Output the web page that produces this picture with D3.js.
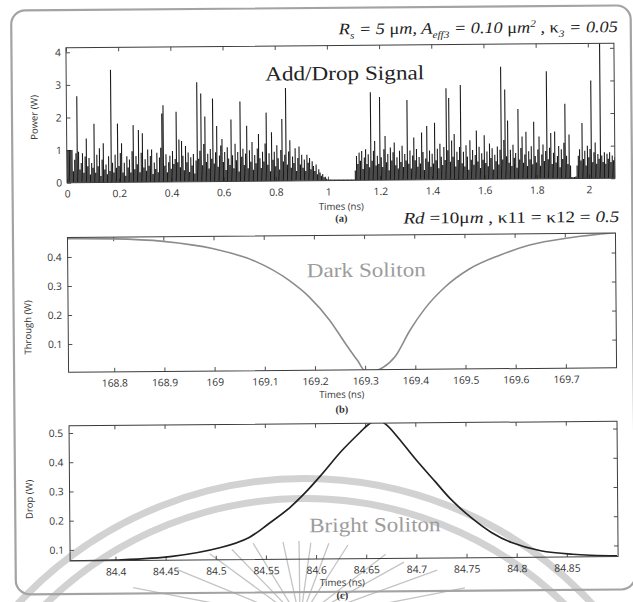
<!DOCTYPE html>
<html>
<head>
<meta charset="utf-8">
<script src="https://cdn.jsdelivr.net/npm/d3@7"></script>
<style>
  body { margin: 0; background: #fff; }
  svg { display: block; }
</style>
</head>
<body>
<svg id="fig" width="633" height="602"></svg>
<script>
// ---------- Panel (a): add/drop output power, one sample every 5 ps ----------
const addDropStep = 0.005; // ns
const addDropPower = [
  1.0, 1.0, 1.0, 1.0, 1.0, 0.35, 0.7, 0.9, 2.65, 0.95, 0.4, 0.6, 0.9, 0.3, 0.8, 1.35, 0.5, 0.75, 0.25, 0.6,
  0.45, 1.8, 0.3, 0.85, 0.5, 1.05, 0.2, 0.7, 1.2, 0.4, 0.55, 0.25, 0.8, 0.35, 3.45, 0.6, 0.3, 0.85, 0.45, 1.8,
  0.5, 0.9, 1.2, 0.3, 0.6, 0.2, 0.8, 0.45, 0.7, 0.3, 0.95, 1.75, 0.4, 0.8, 0.55, 1.6, 0.3, 0.9, 1.5, 0.45,
  0.7, 0.35, 1.0, 0.5, 0.8, 1.0, 0.25, 0.6, 0.4, 0.9, 0.3, 0.75, 1.05, 2.1, 2.35, 0.5, 0.85, 0.3, 0.6, 0.8,
  0.4, 0.95, 0.55, 0.7, 2.15, 0.6, 1.3, 0.45, 1.25, 0.8, 0.35, 1.1, 0.6, 0.9, 0.3, 0.75, 0.5, 0.85, 0.25, 0.65,
  3.05, 0.7, 0.95, 2.7, 0.5, 1.15, 2.0, 0.6, 0.85, 0.4, 1.0, 0.7, 2.55, 0.55, 0.9, 1.7, 0.45, 0.8, 1.1, 1.3,
  0.6, 0.9, 0.35, 1.05, 0.7, 0.5, 1.9, 0.8, 0.4, 1.15, 0.65, 0.9, 0.3, 2.45, 0.75, 1.0, 0.5, 0.85, 1.7, 0.4,
  0.95, 0.6, 1.2, 0.35, 0.8, 0.55, 1.0, 1.45, 0.7, 0.4, 0.9, 0.6, 1.15, 2.1, 0.5, 0.85, 0.3, 1.5, 0.65, 0.9,
  0.45, 1.1, 0.7, 0.35, 0.95, 1.9, 0.6, 0.8, 2.85, 0.5, 0.9, 1.25, 0.4, 0.75, 0.55, 1.0, 0.3, 0.7, 1.05, 0.5,
  0.8, 0.4, 0.65, 0.3, 0.8, 0.55, 0.7, 0.35, 0.6, 0.45, 0.3, 0.5, 0.2, 0.35, 0.25, 0.15, 0.2, 0.1, 0.12, 0.06,
  0.03, 0.03, 0.03, 0.03, 0.03, 0.03, 0.03, 0.03, 0.03, 0.03, 0.03, 0.03, 0.03, 0.03, 0.03, 0.03, 0.03, 0.03, 0.03, 0.03,
  0.03, 0.3, 0.75, 0.5, 0.85, 0.6, 0.9, 0.35, 0.7, 0.95, 0.5, 0.8, 0.4, 2.7, 0.6, 0.9, 1.2, 0.45, 0.75, 0.5,
  2.55, 0.7, 0.4, 0.95, 1.35, 0.55, 0.8, 0.3, 1.0, 0.6, 0.85, 1.15, 0.45, 0.7, 0.35, 0.9, 0.55, 1.05, 0.4, 0.8,
  0.6, 2.45, 0.5, 0.9, 0.35, 0.75, 1.3, 0.6, 0.95, 0.4, 0.7, 0.5, 1.45, 0.85, 0.3, 0.65, 1.65, 0.55, 0.9, 0.4,
  0.8, 0.5, 1.75, 0.6, 0.95, 0.35, 1.1, 0.7, 0.45, 1.0, 0.6, 2.8, 0.9, 2.5, 0.55, 1.2, 0.7, 1.4, 0.4, 0.85,
  0.6, 1.0, 2.9, 0.5, 0.85, 0.4, 1.05, 0.7, 0.3, 1.2, 0.6, 0.9, 0.45, 0.75, 1.5, 0.55, 1.0, 0.35, 0.8, 0.6,
  1.35, 0.5, 0.85, 0.4, 1.1, 0.65, 0.95, 0.3, 0.75, 0.55, 1.0, 0.45, 0.9, 3.45, 0.6, 1.2, 2.75, 0.7, 1.8, 0.5,
  0.9, 0.4, 1.05, 0.65, 0.8, 0.35, 2.15, 0.6, 0.95, 1.3, 0.5, 0.75, 1.45, 0.4, 0.85, 0.6, 1.0, 0.45, 1.75, 0.7,
  0.5, 0.9, 1.3, 0.4, 0.75, 1.05, 0.55, 0.85, 3.3, 0.6, 0.95, 1.4, 0.45, 0.8, 1.45, 0.5, 0.7, 1.0, 0.35, 0.9,
  0.6, 1.1, 2.3, 0.7, 0.45, 1.35, 0.4, 0.05, 0.04, 0.05, 0.06, 0.4, 0.7, 0.9, 0.55, 1.7, 0.6, 0.85, 0.4, 1.0,
  0.65, 0.9, 3.0, 0.5, 0.8, 1.1, 0.45, 0.75, 0.6, 4.3, 0.7, 0.5, 0.8, 0.45, 0.75, 0.6, 0.8, 0.5, 0.7, 0.55,
  0.65
];
const addDropTimeTicks = [0, 0.2, 0.4, 0.6, 0.8, 1, 1.2, 1.4, 1.6, 1.8, 2];
const addDropPowerTicks = [0, 1, 2, 3, 4];

// ---------- Panel (b): dark soliton at the through port ----------
const darkTime  = [168.71, 168.80, 168.90, 169.00, 169.08, 169.15, 169.19, 169.23, 169.26, 169.285, 169.30,
                   169.32, 169.335, 169.36, 169.39, 169.42, 169.46, 169.51, 169.57, 169.63, 169.71, 169.80];
const darkPower = [0.463, 0.461, 0.451, 0.424, 0.382, 0.313, 0.255, 0.175, 0.097, 0.035, 0.0,
                   0.0, 0.01, 0.048, 0.138, 0.212, 0.285, 0.348, 0.394, 0.428, 0.452, 0.468];
const darkTimeTicks  = [168.8, 168.9, 169, 169.1, 169.2, 169.3, 169.4, 169.5, 169.6, 169.7];
const darkPowerTicks = [0.1, 0.2, 0.3, 0.4];

// ---------- Panel (c): bright soliton at the drop port ----------
const brightTime  = [84.355, 84.40, 84.4565, 84.505, 84.533, 84.553, 84.574, 84.59, 84.606, 84.626, 84.646,
                     84.653, 84.662, 84.671, 84.683, 84.699, 84.719, 84.735, 84.755, 84.775, 84.795, 84.824,
                     84.856, 84.90];
const brightPower = [0.062, 0.064, 0.075, 0.104, 0.137, 0.184, 0.238, 0.29, 0.35, 0.43, 0.498,
                     0.52, 0.537, 0.52, 0.474, 0.405, 0.325, 0.262, 0.199, 0.148, 0.113, 0.084,
                     0.071, 0.064];
const brightTimeTicks  = [84.4, 84.45, 84.5, 84.55, 84.6, 84.65, 84.7, 84.75, 84.8, 84.85];
const brightPowerTicks = [0.1, 0.2, 0.3, 0.4, 0.5];

// ---------- Background emblem (sun rays and two arcs) ----------
const rayAngles  = [-79, -67.7, -53.7, -44, -31.4, -12.3, -0.7, 8, 20.6, 32.6, 52.5, 60.9, 70, 79];
const rayLengths = [170, 132, 112, 98, 90, 80, 79, 78, 82, 89, 108, 119, 146, 168];
const arcRadii   = [391.5, 371.5];

const SANS  = "'Open Sans', 'DejaVu Sans', sans-serif";
const SERIF = "'Liberation Serif', 'Times New Roman', serif";
const AXIS_COLOR = "#3c3c3c";

const svg = d3.select("#fig");

// emblem behind the figure
const emblem = svg.append("g");
emblem.selectAll("circle.arc").data(arcRadii).join("circle")
  .attr("class", "arc")
  .attr("cx", 305).attr("cy", 870).attr("r", d => d)
  .attr("fill", "none").attr("stroke", "#d2d2d2").attr("stroke-width", 7);
emblem.selectAll("line.ray").data(rayAngles).join("line")
  .attr("class", "ray")
  .attr("x1", 300).attr("y1", 620)
  .attr("x2", (d, i) => 300 + rayLengths[i] * Math.sin(d * Math.PI / 180))
  .attr("y2", (d, i) => 620 - rayLengths[i] * Math.cos(d * Math.PI / 180))
  .attr("stroke", "#c4c4c4").attr("stroke-width", 1.3);

// the printed page is slightly tilted
const page = svg.append("g").attr("transform", "rotate(-0.47,316,300)");

page.append("rect")
  .attr("x", 13.5).attr("y", 8).attr("width", 619.5).attr("height", 584).attr("rx", 14)
  .attr("fill", "none").attr("stroke", "#a3a3a3").attr("stroke-width", 2.2);

const X0 = 68, X1 = 616;

function drawPanel(id, top, bottom, xDomain, yDomain, xTicks, yTicks, yLabPad) {
  const x = d3.scaleLinear().domain(xDomain).range([X0, X1]);
  const y = d3.scaleLinear().domain(yDomain).range([bottom, top]);
  const g = page.append("g");
  const fmt = d3.format("~g");

  g.append("clipPath").attr("id", id)
    .append("rect").attr("x", X0).attr("y", top).attr("width", X1 - X0).attr("height", bottom - top);

  const styleAxis = sel => {
    sel.select(".domain").remove();
    sel.selectAll(".tick line").attr("stroke", AXIS_COLOR).attr("stroke-width", 0.9);
    sel.selectAll(".tick text").attr("fill", "#333").attr("font-family", SANS).attr("font-size", 10.3);
  };
  g.append("g").attr("transform", `translate(0,${bottom})`)
    .call(d3.axisBottom(x).tickValues(xTicks).tickFormat(fmt).tickSizeInner(-4).tickSizeOuter(0).tickPadding(7.5))
    .call(styleAxis);
  g.append("g").attr("transform", `translate(0,${top})`)
    .call(d3.axisTop(x).tickValues(xTicks).tickFormat("").tickSizeInner(-4).tickSizeOuter(0))
    .call(styleAxis);
  g.append("g").attr("transform", `translate(${X0},0)`)
    .call(d3.axisLeft(y).tickValues(yTicks).tickFormat(fmt).tickSizeInner(-4).tickSizeOuter(0).tickPadding(yLabPad))
    .call(styleAxis);
  g.append("g").attr("transform", `translate(${X1},0)`)
    .call(d3.axisRight(y).tickValues(yTicks).tickFormat("").tickSizeInner(-4).tickSizeOuter(0))
    .call(styleAxis);

  const plot = g.append("g").attr("clip-path", `url(#${id})`);
  g.append("rect").attr("x", X0).attr("y", top).attr("width", X1 - X0).attr("height", bottom - top)
    .attr("fill", "none").attr("stroke", AXIS_COLOR).attr("stroke-width", 1);
  return { x, y, g, plot };
}

function axisTitles(g, cx, xTitleY, tagY, tag, yTitleX, yTitleY, yTitle) {
  g.append("text").attr("x", cx).attr("y", xTitleY).attr("text-anchor", "middle")
    .attr("font-family", SANS).attr("font-size", 9.6).attr("fill", "#333").text("Times (ns)");
  g.append("text").attr("x", cx).attr("y", tagY).attr("text-anchor", "middle")
    .attr("font-family", SERIF).attr("font-weight", "bold").attr("font-size", 10.5).attr("fill", "#333").text(tag);
  g.append("text").attr("transform", `translate(${yTitleX},${yTitleY}) rotate(-90)`)
    .attr("text-anchor", "middle").attr("font-family", SANS).attr("font-size", 9.5).attr("fill", "#333").text(yTitle);
}

function richText(parent, x, y, size, width, parts) {
  const t = parent.append("text").attr("x", x).attr("y", y)
    .attr("font-family", SERIF).attr("font-size", size).attr("fill", "#1e1e1e")
    .attr("textLength", width).attr("lengthAdjust", "spacingAndGlyphs");
  let shift = 0;
  parts.forEach(p => {
    const target = p.sub ? size * 0.28 : p.sup ? -size * 0.38 : 0;
    const ts = t.append("tspan").text(p.t).attr("dy", target - shift);
    shift = target;
    if (p.sub || p.sup) ts.attr("font-size", size * 0.62);
    ts.attr("font-style", p.up ? "normal" : "italic");
  });
  return t;
}

// ----- (a) -----
const A = drawPanel("clipA", 45.7, 180.7, [0, 2.1], [0, 4.14], addDropTimeTicks, addDropPowerTicks, 5);
A.plot.append("path")
  .attr("d", addDropPower.map((v, i) => {
    const px = A.x(i * addDropStep);
    return `M${px},${A.y(0)}V${A.y(v)}`;
  }).join(""))
  .attr("stroke", "#1a1a1a").attr("stroke-width", 1.1).attr("fill", "none");
page.append("text").attr("x", 346.5).attr("y", 80.2).attr("text-anchor", "middle")
  .attr("font-family", SERIF).attr("font-size", 20).attr("fill", "#222")
  .attr("textLength", 159).attr("lengthAdjust", "spacingAndGlyphs").text("Add/Drop Signal");
axisTitles(page, 342, 210, 222, "(a)", 39, 115, "Power (W)");

richText(page, 341, 34.5, 16, 279, [
  { t: "R" }, { t: "s", sub: true }, { t: " = 5 " }, { t: "μ", up: true }, { t: "m, A" },
  { t: "eff3", sub: true }, { t: " = 0.10 " }, { t: "μ", up: true }, { t: "m" }, { t: "2", sup: true },
  { t: " , " }, { t: "κ", up: true }, { t: "3", sub: true }, { t: " = 0.05" }
]);
richText(page, 404, 224.3, 16, 216, [
  { t: "Rd" }, { t: " =10", up: true }, { t: "μ", up: true }, { t: "m" },
  { t: " , κ11 = κ12 = ", up: true }, { t: "0.5" }
]);

// ----- (b) -----
const B = drawPanel("clipB", 235.5, 370.2, [168.709, 169.801], [0.003, 0.467], darkTimeTicks, darkPowerTicks, 6);
B.plot.append("path")
  .datum(darkTime.map((t, i) => [t, darkPower[i]]))
  .attr("d", d3.line().x(d => B.x(d[0])).y(d => B.y(d[1])).curve(d3.curveMonotoneX))
  .attr("stroke", "#8c8c8c").attr("stroke-width", 1.6).attr("fill", "none");
page.append("text").attr("x", 366.5).attr("y", 277.1).attr("text-anchor", "middle")
  .attr("font-family", SERIF).attr("font-size", 20).attr("fill", "#9c9c9c")
  .attr("textLength", 119).attr("lengthAdjust", "spacingAndGlyphs").text("Dark Soliton");
axisTitles(page, 341, 398, 413, "(b)", 31, 325, "Through (W)");

// ----- (c) -----
const C = drawPanel("clipC", 423.7, 559, [84.3548, 84.9011], [0.062, 0.525], brightTimeTicks, brightPowerTicks, 6);
C.plot.append("path")
  .datum(brightTime.map((t, i) => [t, brightPower[i]]))
  .attr("d", d3.line().x(d => C.x(d[0])).y(d => C.y(d[1])).curve(d3.curveCatmullRom.alpha(0.5)))
  .attr("stroke", "#222").attr("stroke-width", 1.7).attr("fill", "none");
page.append("text").attr("x", 373).attr("y", 532.2).attr("text-anchor", "middle")
  .attr("font-family", SERIF).attr("font-size", 20.5).attr("fill", "#9c9c9c")
  .attr("textLength", 131.5).attr("lengthAdjust", "spacingAndGlyphs").text("Bright Soliton");
axisTitles(page, 340, 586, 599, "(c)", 31, 497, "Drop (W)");
</script>
</body>
</html>
